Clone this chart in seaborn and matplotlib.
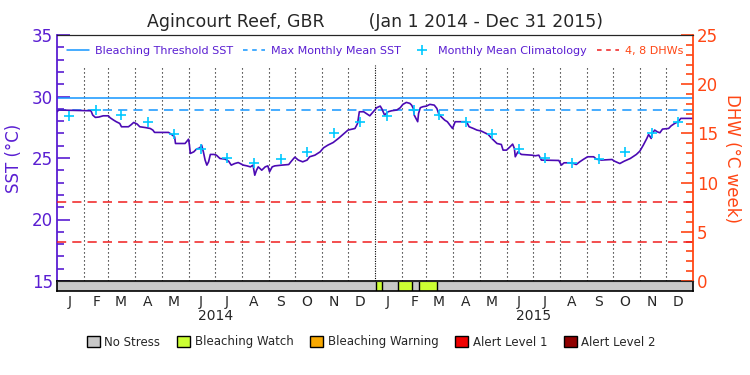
import numpy as np
import pandas as pd
import seaborn as sns
import matplotlib.pyplot as plt
from matplotlib.patches import Patch
from matplotlib.lines import Line2D
from matplotlib.ticker import MultipleLocator

# daily SST (day 0 = Jan 1 2014)
sst_days = [0, 2, 39, 41, 44, 48, 53, 59, 61, 65, 68, 72, 74, 82, 85, 88, 92, 95, 101, 107, 110, 112,
            128, 131, 135, 136, 147, 151, 152, 153, 157, 160, 164, 166, 168, 170, 172, 174, 176, 180,
            183, 187, 193, 197, 200, 204, 208, 214, 218, 222, 225, 227, 229, 231, 235, 239, 242, 244,
            247, 250, 258, 266, 269, 273, 277, 282, 287, 290, 296, 302, 306, 311, 317, 323, 329, 334,
            342, 345, 347, 352, 355, 359, 363, 367, 371, 373, 376, 380, 384, 390, 394, 397, 401, 405,
            407, 409, 410, 412, 414, 415, 417, 420, 424, 428, 433, 436, 438, 441, 445, 448, 451, 454,
            457, 470, 473, 478, 482, 487, 495, 499, 503, 505, 510, 512, 516, 520, 523, 525, 526, 529,
            533, 545, 549, 553, 556, 576, 579, 582, 589, 593, 596, 600, 604, 609, 616, 619, 625, 637,
            640, 646, 651, 658, 661, 665, 669, 673, 677, 679, 682, 683, 686, 689, 692, 695, 702, 705,
            709, 713, 716, 730]
sst_vals = [28.76, 28.90, 28.84, 28.49, 28.30, 28.33, 28.43, 28.43, 28.27, 28.08, 27.95, 27.81, 27.54,
            27.54, 27.70, 27.89, 27.76, 27.54, 27.48, 27.40, 27.27, 27.08, 27.08, 26.94, 26.72, 26.18,
            26.18, 26.53, 26.05, 25.37, 25.50, 25.72, 25.83, 26.05, 25.50, 24.83, 24.42, 24.69, 25.29,
            25.29, 25.23, 24.96, 24.91, 24.74, 24.42, 24.55, 24.63, 24.42, 24.36, 24.28, 24.42, 23.60,
            24.01, 24.28, 24.01, 24.28, 24.36, 23.88, 24.28, 24.36, 24.42, 24.47, 24.74, 25.07, 24.83,
            24.69, 24.83, 25.10, 25.23, 25.50, 25.83, 26.05, 26.26, 26.59, 26.96, 27.27, 27.40, 27.81,
            28.76, 28.76, 28.62, 28.43, 28.76, 29.09, 29.22, 28.98, 28.49, 28.76, 28.84, 28.90, 29.09,
            29.36, 29.52, 29.44, 29.30, 29.03, 28.49, 28.22, 27.95, 28.62, 29.09, 29.17, 29.22, 29.36,
            29.30, 29.03, 28.62, 28.35, 28.08, 27.95, 27.67, 27.40, 27.95, 27.95, 27.54, 27.40, 27.27,
            27.19, 26.91, 26.59, 26.32, 26.18, 26.10, 25.64, 25.64, 25.91, 26.13, 25.77, 25.10, 25.50,
            25.29, 25.23, 25.18, 25.23, 24.83, 24.80, 24.42, 24.61, 24.61, 24.55, 24.47, 24.69, 24.88,
            25.10, 25.10, 24.91, 24.83, 24.88, 24.74, 24.55, 24.74, 24.96, 25.10, 25.29, 25.56, 26.05,
            26.59, 26.91, 26.59, 26.96, 27.27, 27.13, 27.05, 27.35, 27.40, 27.62, 27.81, 27.95, 28.22,
            28.22]

# monthly mean climatology (Jan..Dec)
clim_vals = [28.45, 28.87, 28.48, 27.95, 26.95, 25.76, 24.96, 24.57, 24.89, 25.47, 27.02, 27.90]
mmm = 28.87
threshold = 29.87
dhw_levels = [4, 8]

# stress bar segments (day boundaries) and level per segment
stress_edges = [0, 366, 373, 391, 408, 416, 436, 730]
stress_level = [0, 1, 0, 1, 0, 1, 0]
stress_names = ['No Stress', 'Bleaching Watch', 'Bleaching Warning', 'Alert Level 1', 'Alert Level 2']
stress_colors = ['#C8C8C8', '#CCFF33', '#F8A800', '#F00000', '#900000']

month_letters = ['J', 'F', 'M', 'A', 'M', 'J', 'J', 'A', 'S', 'O', 'N', 'D']
years = ['2014', '2015']

PURPLE = '#5A1ED2'
LINE = '#4B0AB4'
CYAN = '#00C8FF'
BLUE = '#1496FF'
ORANGE = '#FF4614'
RED = '#F01E1E'

sns.set_style("white")
plt.rcParams['font.family'] = ['DejaVu Sans']

start = pd.Timestamp('2014-01-01')
month_starts = (pd.date_range('2014-01-01', '2016-01-01', freq='MS') - start).days.values
mid_months = (pd.date_range('2014-01-15', periods=24, freq=pd.DateOffset(months=1)) - start).days.values

fig = plt.figure(figsize=(7.5, 3.75), dpi=100)
ax = fig.add_axes([57 / 750, 1 - 281 / 375, 636 / 750, 246 / 375])
axb = fig.add_axes([57 / 750, 1 - 291 / 375, 636 / 750, 10 / 375])

# month dividers (stop below the legend row)
for d in month_starts[1:-1]:
    if d == 365:
        ax.axvline(d, ymax=0.878, color='k', lw=0.8, ls=(0, (1, 1.2)), zorder=1)
    else:
        ax.axvline(d, ymax=0.878, color='k', lw=0.8, ls=(0, (1, 2.6)), zorder=1)

ax.axhline(threshold, color=BLUE, lw=1.1, zorder=2)
ax.axhline(mmm, color=BLUE, lw=1.1, ls=(0, (6, 4)), zorder=2)

sst_df = pd.DataFrame({'day': sst_days, 'sst': sst_vals})
sns.lineplot(data=sst_df, x='day', y='sst', ax=ax, color=LINE, lw=1.2, zorder=5)
clim_df = pd.DataFrame({'day': mid_months, 'clim': clim_vals * 2})
sns.scatterplot(data=clim_df, x='day', y='clim', ax=ax, marker='+', s=60, color=CYAN,
                linewidth=1.2, zorder=6)

ax.set_xlim(0, 730)
ax.set_ylim(15, 35)
ax.set_xticks([])
ax.set_xlabel('')
ax.yaxis.set_major_locator(MultipleLocator(5))
ax.yaxis.set_minor_locator(MultipleLocator(1))
ax.tick_params(axis='y', which='major', direction='in', length=9, width=1.2, colors=PURPLE,
               labelsize=12, pad=3, left=True)
ax.tick_params(axis='y', which='minor', direction='in', length=5, width=1.2, colors=PURPLE, left=True)
ax.set_ylabel('SST (°C)', color=PURPLE, fontsize=12, labelpad=6)
ax.spines['left'].set_color(PURPLE)
ax.spines['left'].set_linewidth(1.3)
ax.spines['right'].set_visible(False)
ax.spines['top'].set_color('k')
ax.spines['bottom'].set_color('k')

ax2 = ax.twinx()
for lv in dhw_levels:
    ax2.axhline(lv, color=RED, lw=1.1, ls=(0, (6, 4)), zorder=2)
ax2.set_ylim(0, 25)
ax2.yaxis.set_major_locator(MultipleLocator(5))
ax2.yaxis.set_minor_locator(MultipleLocator(1))
ax2.tick_params(axis='y', which='major', direction='in', length=9, width=1.2, colors=ORANGE,
                labelsize=12, pad=3, right=True)
ax2.tick_params(axis='y', which='minor', direction='in', length=5, width=1.2, colors=ORANGE, right=True)
ax2.set_ylabel('DHW (°C week)', color=ORANGE, fontsize=12, rotation=270, labelpad=16)
ax2.spines['right'].set_color(ORANGE)
ax2.spines['right'].set_linewidth(1.3)
ax2.spines['left'].set_visible(False)

handles = [Line2D([], [], color=BLUE, lw=1.1),
           Line2D([], [], color=BLUE, lw=1.1, ls=(0, (3, 3))),
           Line2D([], [], color=CYAN, marker='+', ls='none', ms=7, mew=1.2),
           Line2D([], [], color=RED, lw=1.1, ls=(0, (3, 3)))]
labels = ['Bleaching Threshold SST', 'Max Monthly Mean SST', 'Monthly Mean Climatology', '4, 8 DHWs']
ax2.legend(handles, labels, loc='center', bbox_to_anchor=(0.5, 0.935), ncol=4, frameon=False,
           fontsize=8, handlelength=2.0, handletextpad=0.5, columnspacing=0.9,
           labelcolor=[PURPLE, PURPLE, PURPLE, ORANGE])

# stress bar
widths = np.diff(stress_edges)
axb.barh(0, widths, left=stress_edges[:-1], height=1,
         color=[stress_colors[l] for l in stress_level], edgecolor='none')
for d in stress_edges[1:-1]:
    axb.axvline(d, color='k', lw=1)
axb.set_xlim(0, 730)
axb.set_ylim(-0.5, 0.5)
axb.set_yticks([])
axb.set_xticks(mid_months)
axb.set_xticklabels(month_letters * 2, fontsize=10)
axb.tick_params(axis='x', length=0, pad=3)
for s in axb.spines.values():
    s.set_color('k')
    s.set_linewidth(1.2)
for i, y in enumerate(years):
    axb.text(182.5 + 365 * i, -2.95, y, ha='center', va='center', fontsize=10,
             transform=axb.transData)

fig.text(0.5, 1 - 22 / 375, 'Agincourt Reef, GBR        (Jan 1 2014 - Dec 31 2015)',
         ha='center', va='center', fontsize=12.5)

patches = [Patch(facecolor=c, edgecolor='k', label=n) for n, c in zip(stress_names, stress_colors)]
fig.legend(handles=patches, loc='center', bbox_to_anchor=(0.495, 1 - 342 / 375), ncol=5, frameon=False,
           fontsize=8.5, handlelength=1.1, handleheight=1.1, handletextpad=0.4, columnspacing=1.4)

fig.savefig('out.png', dpi=100)
